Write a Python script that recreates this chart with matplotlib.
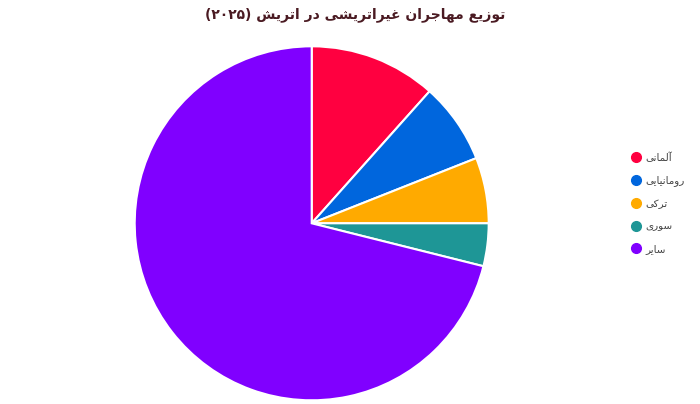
import matplotlib
matplotlib.use("Agg")
import matplotlib.pyplot as plt
from matplotlib.lines import Line2D

# Daten (Anteile in %)
labels = ["آلمانی", "رومانیایی", "ترکی", "سوری", "سایر"]
werte = [11.6, 7.4, 6.0, 3.9, 71.1]
farben = ["#ff0040", "#0066dd", "#ffaa00", "#1e9696", "#8000ff"]
titel = "توزیع مهاجران غیراتریشی در اتریش (۲۰۲۵)"

# einfache Formung für persische Schrift (matplotlib kann kein RTL)
formen = {
    "ا": ("\ufe8d", "\ufe8e", None, None),
    "آ": ("\ufe81", "\ufe82", None, None),
    "د": ("\ufea9", "\ufeaa", None, None),
    "ر": ("\ufead", "\ufeae", None, None),
    "ز": ("\ufeaf", "\ufeb0", None, None),
    "و": ("\ufeed", "\ufeee", None, None),
    "ت": ("\ufe95", "\ufe96", "\ufe97", "\ufe98"),
    "ج": ("\ufe9d", "\ufe9e", "\ufe9f", "\ufea0"),
    "س": ("\ufeb1", "\ufeb2", "\ufeb3", "\ufeb4"),
    "ش": ("\ufeb5", "\ufeb6", "\ufeb7", "\ufeb8"),
    "ع": ("\ufec9", "\ufeca", "\ufecb", "\ufecc"),
    "غ": ("\ufecd", "\ufece", "\ufecf", "\ufed0"),
    "ل": ("\ufedd", "\ufede", "\ufedf", "\ufee0"),
    "م": ("\ufee1", "\ufee2", "\ufee3", "\ufee4"),
    "ن": ("\ufee5", "\ufee6", "\ufee7", "\ufee8"),
    "ه": ("\ufee9", "\ufeea", "\ufeeb", "\ufeec"),
    "ی": ("\ufbfc", "\ufbfd", "\ufbfe", "\ufbff"),
    "ک": ("\ufb8e", "\ufb8f", "\ufb90", "\ufb91"),
}


def forme(text):
    out = []
    for i, ch in enumerate(text):
        if ch not in formen:
            out.append(ch)
            continue
        vor = text[i - 1] if i > 0 else ""
        nach = text[i + 1] if i + 1 < len(text) else ""
        links = vor in formen and formen[vor][2] is not None
        rechts = nach in formen and formen[ch][2] is not None
        iso, fin, ini, med = formen[ch]
        if links and rechts:
            out.append(med)
        elif links:
            out.append(fin)
        elif rechts:
            out.append(ini)
        else:
            out.append(iso)
    s = "".join(out)[::-1]
    s = s.translate(str.maketrans("()", ")("))
    # Ziffern wieder von links nach rechts
    ergebnis, lauf = [], []
    for ch in s:
        if "\u06f0" <= ch <= "\u06f9":
            lauf.append(ch)
        else:
            ergebnis.extend(lauf[::-1])
            lauf = []
            ergebnis.append(ch)
    ergebnis.extend(lauf[::-1])
    return "".join(ergebnis)


plt.rcParams["font.family"] = ["DejaVu Sans"]

fig = plt.figure(figsize=(7, 4.04), dpi=100)

r = 177
cx, cy = 311.7, 404 - 223.3
ax = fig.add_axes([(cx - r) / 700, (cy - r) / 404, 2 * r / 700, 2 * r / 404])

ax.pie(
    werte,
    colors=farben,
    startangle=90,
    counterclock=False,
    radius=1,
    wedgeprops={"edgecolor": "white", "linewidth": 1.5},
)
ax.set_xlim(-1, 1)
ax.set_ylim(-1, 1)
ax.set_aspect("auto")
ax.axis("off")

fig.text(
    355 / 700, 1 - 15 / 404,
    forme(titel),
    ha="center", va="center",
    fontsize=10, weight="bold", color="#4a1a22"
)

handles = [
    Line2D([], [], marker="o", linestyle="", markersize=7,
           markerfacecolor=f, markeredgecolor=f)
    for f in farben
]
fig.legend(
    handles,
    [forme(l) for l in labels],
    loc="center left",
    bbox_to_anchor=(620 / 700, 1 - 203 / 404),
    frameon=False,
    fontsize=7.5,
    handletextpad=0.3,
    labelspacing=1.2,
    handlelength=1.2,
    labelcolor="#444444",
)

fig.savefig("out.png", dpi=100, facecolor="white")
